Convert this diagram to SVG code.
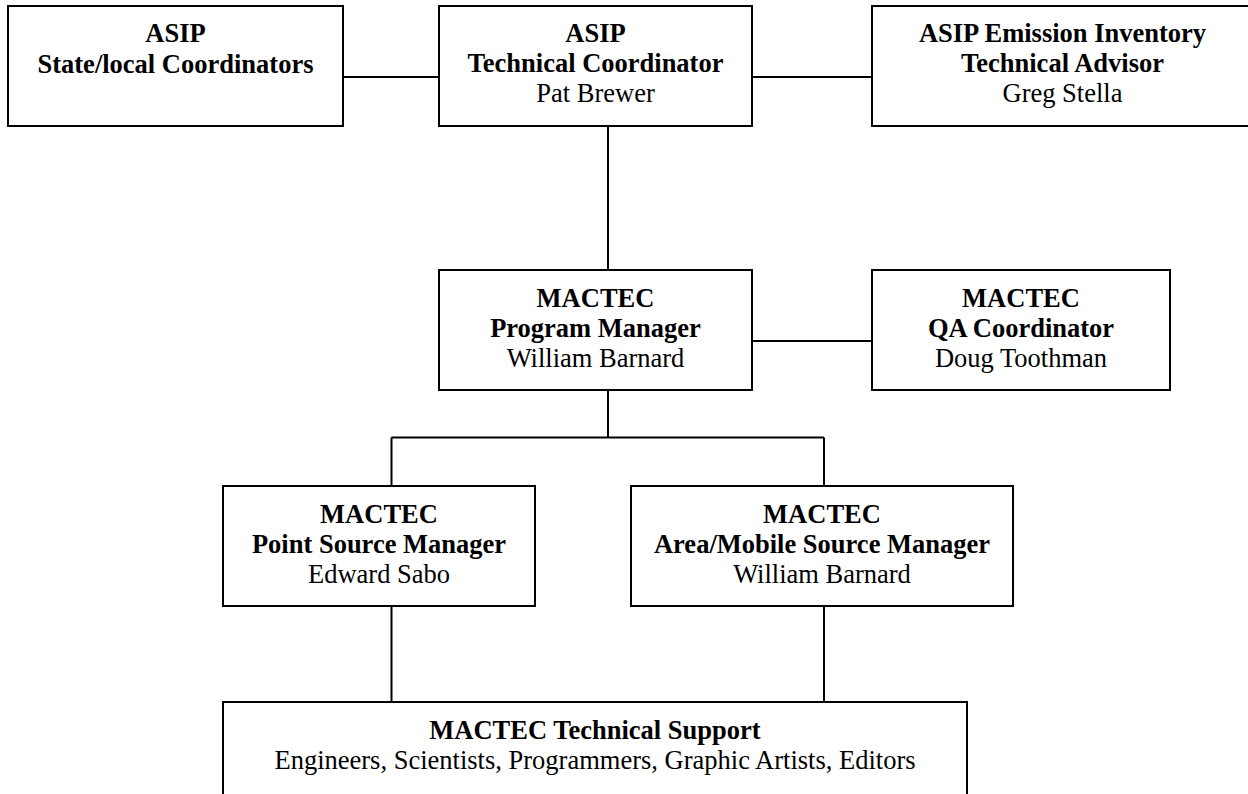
<svg xmlns="http://www.w3.org/2000/svg" width="1248" height="794" viewBox="0 0 1248 794">
<style>
.box{fill:#fff;stroke:#000;stroke-width:2}
.c{fill:none;stroke:#000;stroke-width:2}
text{font-family:"Liberation Serif","Times New Roman",serif;font-size:26.5px;fill:#000;text-anchor:middle}
.b{font-weight:bold}
</style>
<rect width="1248" height="794" fill="#fff"/>
<g id="connectors">
<path class="c" d="M343,77H439M752,77H872M608,126V270M752,341H872M608,390V437.5M391.5,437.5H824M391.5,437.5V486M824,437.5V486M391.5,606V702M824,606V702"/>
</g>
<g id="asip-state">
<rect class="box" x="8" y="6" width="335" height="120"/>
<text class="b" x="175.5" y="42">ASIP</text>
<text class="b" x="175.5" y="72.5">State/local Coordinators</text>
</g>
<g id="asip-tech">
<rect class="box" x="439" y="6" width="313" height="120"/>
<text class="b" x="595.5" y="42">ASIP</text>
<text class="b" x="595.5" y="72">Technical Coordinator</text>
<text x="595.5" y="102">Pat Brewer</text>
</g>
<g id="asip-ei">
<rect class="box" x="872" y="6" width="381" height="120"/>
<text class="b" x="1062.5" y="42">ASIP Emission Inventory</text>
<text class="b" x="1062.5" y="72">Technical Advisor</text>
<text x="1062.5" y="102">Greg Stella</text>
</g>
<g id="mactec-pm">
<rect class="box" x="439" y="270" width="313" height="120"/>
<text class="b" x="595.5" y="306.5">MACTEC</text>
<text class="b" x="595.5" y="336.5">Program Manager</text>
<text x="595.5" y="366.5">William Barnard</text>
</g>
<g id="mactec-qa">
<rect class="box" x="872" y="270" width="298" height="120"/>
<text class="b" x="1021" y="306.5">MACTEC</text>
<text class="b" x="1021" y="336.5">QA Coordinator</text>
<text x="1021" y="366.5">Doug Toothman</text>
</g>
<g id="mactec-point">
<rect class="box" x="223" y="486" width="312" height="120"/>
<text class="b" x="379" y="522.5">MACTEC</text>
<text class="b" x="379" y="552.5">Point Source Manager</text>
<text x="379" y="582.5">Edward Sabo</text>
</g>
<g id="mactec-area">
<rect class="box" x="631" y="486" width="382" height="120"/>
<text class="b" x="822" y="522.5">MACTEC</text>
<text class="b" x="822" y="552.5">Area/Mobile Source Manager</text>
<text x="822" y="582.5">William Barnard</text>
</g>
<g id="mactec-support">
<rect class="box" x="223" y="702" width="744" height="130"/>
<text class="b" x="595" y="738.5">MACTEC Technical Support</text>
<text x="595" y="768.5">Engineers, Scientists, Programmers, Graphic Artists, Editors</text>
</g>
</svg>
